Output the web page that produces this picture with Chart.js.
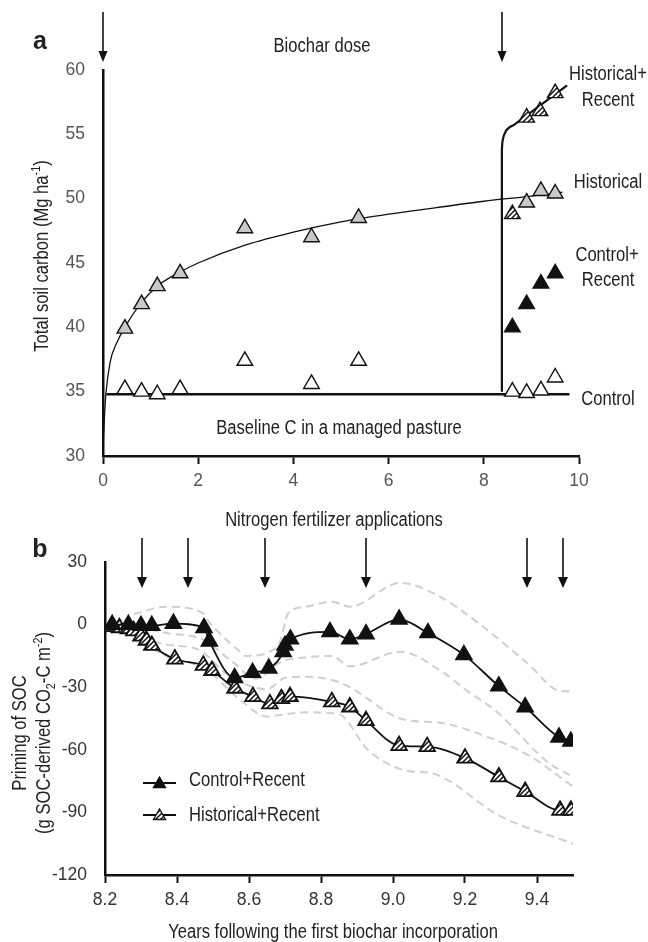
<!DOCTYPE html>
<html><head><meta charset="utf-8">
<script src="https://cdn.jsdelivr.net/npm/chart.js@4.4.0/dist/chart.umd.min.js"></script>
<style>
html,body{margin:0;padding:0;background:#fff;}
#wrap{position:relative;width:648px;height:942px;overflow:hidden;font-family:'Liberation Sans',Arial,sans-serif;color:#222;}
canvas{position:absolute;left:0;}
.t{position:absolute;white-space:nowrap;line-height:1;font-size:20px;transform:translate(-50%,-50%) scaleX(0.83);}
.l{transform-origin:0 50%;transform:translate(0,-50%) scaleX(0.83);}
.rot{transform:translate(-50%,-50%) rotate(-90deg) scaleX(0.83);}
.bold{font-weight:bold;font-size:25px;transform:translate(-50%,-50%);}
sup,sub{font-size:13px;line-height:0;}
</style></head><body>
<div id="wrap">
<canvas id="ca" width="648" height="490" style="top:0"></canvas>
<canvas id="cb" width="648" height="452" style="top:490px"></canvas>

<div class="t bold" style="left:40px;top:40px">a</div>
<div class="t" style="left:322px;top:45px">Biochar dose</div>
<div class="t" style="left:608px;top:73px">Historical+</div>
<div class="t" style="left:608px;top:99px">Recent</div>
<div class="t" style="left:608px;top:181px">Historical</div>
<div class="t" style="left:607px;top:254px">Control+</div>
<div class="t" style="left:608px;top:279px">Recent</div>
<div class="t" style="left:608px;top:398px">Control</div>
<div class="t" style="left:339px;top:427px">Baseline C in a managed pasture</div>
<div class="t rot" style="left:41px;top:256px">Total soil carbon (Mg ha<sup>-1</sup>)</div>

<div class="t" style="left:334px;top:519px">Nitrogen fertilizer applications</div>
<div class="t bold" style="left:40px;top:548px">b</div>
<div class="t rot" style="left:19px;top:733px">Priming of SOC</div>
<div class="t rot" style="left:43px;top:733px">(g SOC-derived CO<sub>2</sub>-C m<sup>-2</sup>)</div>
<div class="t l" style="left:189px;top:779px">Control+Recent</div>
<div class="t l" style="left:189px;top:814px">Historical+Recent</div>
<div class="t" style="left:333px;top:931px">Years following the first biochar incorporation</div>
</div>
<script>
// ---------- Panel a data ----------
const xTicksA = [0, 2, 4, 6, 8, 10];
const yTicksA = [30, 35, 40, 45, 50, 55, 60];
const controlX = [0.46, 0.81, 1.14, 1.62, 2.98, 4.38, 5.37, 8.6, 8.9, 9.2, 9.5];
const controlY = [35.2, 35.0, 34.8, 35.2, 37.4, 35.6, 37.4, 35.0, 34.9, 35.1, 36.1];
const historicalX = [0.46, 0.81, 1.14, 1.62, 2.98, 4.38, 5.37, 8.9, 9.2, 9.5];
const historicalY = [39.9, 41.8, 43.2, 44.2, 47.7, 47.0, 48.5, 49.7, 50.6, 50.4];
const controlRecentX = [8.6, 8.9, 9.2, 9.5];
const controlRecentY = [40.0, 41.8, 43.4, 44.2];
const histRecentX = [8.6, 8.9, 9.18, 9.5];
const histRecentY = [48.8, 56.3, 56.8, 58.2];
const histFitX = [0.0, 0.03, 0.06, 0.15, 0.29, 0.46, 0.8, 1.14, 1.62, 2, 3, 4, 5, 6, 7, 8, 9, 9.65];
const histFitY = [30.6, 33.0, 34.8, 37.3, 38.8, 40.0, 41.9, 43.2, 44.3, 45.0, 46.4, 47.4, 48.2, 48.8, 49.3, 49.8, 50.2, 50.5];
const baselineX = [0.07, 9.8];
const baselineY = [34.8, 34.8];
const doseLineX = [8.38, 8.38, 8.39, 8.42, 8.47, 8.54, 8.62, 9.75];
const doseLineY = [35.0, 53.8, 54.4, 54.9, 55.3, 55.55, 55.7, 58.8];
const biocharDoseYears = [0, 8.38];

// ---------- Panel b data ----------
const xTicksB = [8.2, 8.4, 8.6, 8.8, 9.0, 9.2, 9.4];
const yTicksB = [-120, -90, -60, -30, 0, 30];
const crX = [8.22, 8.265, 8.30, 8.33, 8.39, 8.475, 8.49, 8.56, 8.61, 8.655, 8.695, 8.70, 8.715, 8.825, 8.88, 8.925, 9.017, 9.097, 9.197, 9.294, 9.367, 9.461, 9.494];
const crY = [0, 0, -0.5, -0.5, 0.5, -1.5, -8, -25.5, -23, -21, -13, -10, -7, -3.5, -7, -4.5, 2.5, -4, -14.5, -29.5, -39.5, -54, -56];
const hrX = [8.22, 8.24, 8.265, 8.28, 8.30, 8.315, 8.33, 8.394, 8.473, 8.497, 8.561, 8.611, 8.658, 8.69, 8.714, 8.83, 8.88, 8.925, 9.017, 9.095, 9.2, 9.294, 9.367, 9.464, 9.494];
const hrY = [-1, -1.5, -2, -3, -5.5, -7.5, -10, -16.5, -19.5, -22, -30.5, -34.5, -38, -35.5, -34.5, -37, -39.5, -46, -58, -58.5, -64, -73, -80, -89, -89];
const bandCtrlHiX = [8.28, 8.37, 8.47, 8.49, 8.575, 8.59, 8.68, 8.71, 8.76, 8.83, 8.88, 9.02, 9.13, 9.25, 9.37, 9.47, 9.5];
const bandCtrlHiY = [5, 8.6, 5.7, 1, -13, -15, -10.5, 5.7, 8.6, 11, 8.6, 20, 13.4, -1, -18, -32, -32];
const bandCtrlLoX = [8.29, 8.37, 8.47, 8.555, 8.62, 8.69, 8.74, 8.83, 8.88, 9.02, 9.14, 9.2, 9.29, 9.43, 9.5];
const bandCtrlLoY = [-1, -4, -7, -18, -26, -17.7, -16, -15, -20, -13, -23, -31, -42, -66, -73];
const bandHistHiX = [8.3, 8.37, 8.46, 8.54, 8.65, 8.7, 8.76, 8.84, 8.88, 9.03, 9.13, 9.25, 9.38, 9.5];
const bandHistHiY = [-6, -9.6, -12, -24, -31, -25.5, -25, -27, -30, -45.5, -47, -53, -63, -77.6];
const bandHistLoX = [8.3, 8.37, 8.48, 8.575, 8.65, 8.7, 8.76, 8.85, 8.93, 9.05, 9.1, 9.3, 9.5];
const bandHistLoY = [-8.6, -15, -21.5, -36, -44, -43, -42, -43, -60, -70.4, -71, -92, -105];
const nApplicationYears = [8.303, 8.43, 8.644, 8.925, 9.372, 9.472];

// ---------- helpers ----------
const FONT = "'Liberation Sans',Arial,sans-serif";
Chart.defaults.font.family = FONT;
const pts = (xs, ys) => xs.map((x, i) => ({x, y: ys[i]}));
function hatch(ctx) {
  const c = document.createElement('canvas'); c.width = 5; c.height = 5;
  const g = c.getContext('2d');
  g.fillStyle = '#fff'; g.fillRect(0, 0, 5, 5);
  g.strokeStyle = '#111'; g.lineWidth = 1.5;
  g.beginPath();
  g.moveTo(-1, 6); g.lineTo(6, -1);
  g.moveTo(-1, 1); g.lineTo(1, -1);
  g.moveTo(4, 6); g.lineTo(6, 4);
  g.stroke();
  return ctx.createPattern(c, 'repeat');
}
function tri(ctx, x, y, r) {
  ctx.beginPath();
  for (let k = 0; k < 3; k++) {
    const a = k * 2 * Math.PI / 3;
    const px = x + Math.sin(a) * r, py = y - Math.cos(a) * r;
    if (k === 0) ctx.moveTo(px, py); else ctx.lineTo(px, py);
  }
  ctx.closePath();
}
const arrowPlugin = {
  id: 'arrows',
  afterDraw(chart, args, o) {
    const ctx = chart.ctx, xs = chart.scales.x;
    ctx.save();
    ctx.strokeStyle = '#111'; ctx.fillStyle = '#111'; ctx.lineWidth = 1.6;
    o.at.forEach(v => {
      const px = Math.round(xs.getPixelForValue(v));
      ctx.beginPath(); ctx.moveTo(px, o.top); ctx.lineTo(px, o.tip - o.head + 1); ctx.stroke();
      ctx.beginPath(); ctx.moveTo(px - o.half, o.tip - o.head); ctx.lineTo(px + o.half, o.tip - o.head); ctx.lineTo(px, o.tip); ctx.closePath(); ctx.fill();
    });
    ctx.restore();
  }
};
const legendPlugin = {
  id: 'glyphs',
  afterDraw(chart, args, o) {
    if (!o.items) return;
    const ctx = chart.ctx;
    o.items.forEach(it => {
      const ds = chart.data.datasets[it.ds];
      ctx.save();
      ctx.strokeStyle = '#111'; ctx.lineWidth = 2;
      ctx.beginPath(); ctx.moveTo(it.x0, it.y); ctx.lineTo(it.x1, it.y); ctx.stroke();
      tri(ctx, (it.x0 + it.x1) / 2, it.y + 1, 7);
      ctx.fillStyle = ds.backgroundColor; ctx.fill();
      ctx.lineWidth = 1.3; ctx.stroke();
      ctx.restore();
    });
  }
};
function scaleOpts(min, max, ticks, size, color, fmt, isX) {
  return {
    type: 'linear', min, max,
    afterBuildTicks: s => { s.ticks = ticks.map(v => ({value: v})); },
    afterFit: s => { if (isX) s.height = size; else s.width = size; },
    ticks: {color, font: {size: 17.5}, padding: isX ? 7 : 18, maxRotation: 0, autoSkip: false, callback: fmt},
    grid: {drawOnChartArea: false, drawTicks: isX, tickLength: 8, tickColor: '#111', tickWidth: 2},
    border: {color: '#111', width: 2.5}
  };
}
const marker = (data, bg) => ({data, showLine: false, pointStyle: 'triangle', pointRadius: 9, pointHoverRadius: 9,
  backgroundColor: bg, borderColor: '#111', borderWidth: 1.4});

// ---------- Panel a ----------
const ctxA = document.getElementById('ca').getContext('2d');
const hatchA = hatch(ctxA);
new Chart(ctxA, {
  type: 'scatter',
  data: {datasets: [
    marker(pts(histRecentX, histRecentY), hatchA),
    marker(pts(controlRecentX, controlRecentY), '#111'),
    marker(pts(historicalX, historicalY), '#c9c9c9'),
    marker(pts(controlX, controlY), '#fff'),
    {data: pts(doseLineX, doseLineY), showLine: true, pointRadius: 0, borderColor: '#111', borderWidth: 2.2, tension: 0},
    {data: pts(baselineX, baselineY), showLine: true, pointRadius: 0, borderColor: '#111', borderWidth: 2.5},
    {data: pts(histFitX, histFitY), showLine: true, pointRadius: 0, borderColor: '#111', borderWidth: 1.3, cubicInterpolationMode: 'monotone'}
  ]},
  options: {
    responsive: false, animation: false, devicePixelRatio: 1,
    layout: {padding: {top: 70, right: 69, left: 0, bottom: 0}},
    plugins: {legend: {display: false}, tooltip: {enabled: false},
      arrows: {at: biocharDoseYears, top: 12, tip: 62, head: 11, half: 4.5}},
    scales: {
      x: scaleOpts(0, 10, xTicksA, 34, '#555', v => String(v), true),
      y: scaleOpts(30, 60, yTicksA, 103, '#555', v => String(v), false)
    }
  },
  plugins: [arrowPlugin]
});

// ---------- Panel b ----------
const ctxB = document.getElementById('cb').getContext('2d');
const hatchB = hatch(ctxB);
const band = (xs, ys) => ({data: pts(xs, ys), showLine: true, pointRadius: 0, borderColor: '#cfcfcf', borderWidth: 2, borderDash: [8, 5], cubicInterpolationMode: 'monotone'});
new Chart(ctxB, {
  type: 'scatter',
  data: {datasets: [
    {...marker(pts(crX, crY), '#111'), showLine: true, borderWidth: 1.8, cubicInterpolationMode: 'monotone'},
    {...marker(pts(hrX, hrY), hatchB), showLine: true, borderWidth: 1.8, cubicInterpolationMode: 'monotone'},
    band(bandCtrlHiX, bandCtrlHiY),
    band(bandCtrlLoX, bandCtrlLoY),
    band(bandHistHiX, bandHistHiY),
    band(bandHistLoX, bandHistLoY)
  ]},
  options: {
    responsive: false, animation: false, devicePixelRatio: 1,
    layout: {padding: {top: 72, right: 75, left: 0, bottom: 0}},
    plugins: {legend: {display: false}, tooltip: {enabled: false},
      arrows: {at: nApplicationYears, top: 48, tip: 98, head: 11, half: 5},
      glyphs: {items: [{ds: 0, x0: 143, x1: 176, y: 293}, {ds: 1, x0: 143, x1: 176, y: 325}]}},
    scales: {
      x: scaleOpts(8.2, 9.5, xTicksB, 67, '#333', v => v.toFixed(1), true),
      y: scaleOpts(-120, 30, yTicksB, 105, '#333', v => String(v), false)
    }
  },
  plugins: [arrowPlugin, legendPlugin]
});
</script>
</body></html>
